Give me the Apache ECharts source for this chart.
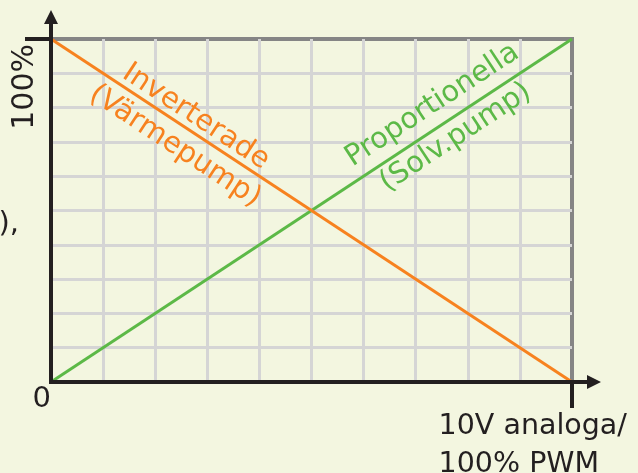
<!DOCTYPE html>
<html><head><meta charset="utf-8">
<script src="https://cdn.jsdelivr.net/npm/echarts@6/dist/echarts.min.js"></script>
<style>html,body{margin:0;padding:0;background:#f3f6e0;}#c{width:638px;height:473px;}</style>
</head><body><div id="c"></div>
<script>
// ---- data ----
const xValues = [0, 100];
const invertedValues = [100, 0];      // Inverterade (Värmepump)
const proportionalValues = [0, 100];  // Proportionella (Solv.pump)
const xLabelValues = [0];
const xLabelTexts = ['0'];
const yLabelValues = [100];
const yLabelTexts = ['100%'];
const xAxisTitle = '10V analoga/\n100% PWM';
const invertedLabel = ['Inverterade', '(Värmepump)'];
const proportionalLabel = ['Proportionella', '(Solv.pump)'];
const sideText = 'Pumpens varvtal (%),';

// ---- styling ----
const FONT = '"DejaVu Sans", Verdana, sans-serif';
const INK = '#231f20';
const ORANGE = '#f7821f';
const GREEN = '#5cb947';
const GRIDC = '#d5d5d5';
const arrowPath = 'path://M7,0 L14,14 L9,14 L9,30 L5,30 L5,14 L0,14 Z';

// label font size chosen so the ink length of the line labels matches the reference
const mctx = document.createElement('canvas').getContext('2d');
function inkLen(text, fs) {
  mctx.font = fs + 'px ' + FONT;
  const m = mctx.measureText(text);
  return m.actualBoundingBoxLeft + m.actualBoundingBoxRight;
}
const LFS = Math.round(((167 / inkLen(invertedLabel[0], 100)) + (197 / inkLen(proportionalLabel[0], 100))) * 50 * 2) / 2;

const chart = echarts.init(document.getElementById('c'), null, {renderer: 'canvas'});
const hidden = {axisLine: {show: false}, axisTick: {show: false}, axisLabel: {show: false}};
const gridSplit = {show: true, showMinLine: false, showMaxLine: false, lineStyle: {color: GRIDC, width: 3}};
const blackLine = {show: true, symbol: ['none', arrowPath], symbolSize: [14, 30], symbolOffset: [0, 14], lineStyle: {color: INK, width: 4, cap: 'square'}};
const option = {
  backgroundColor: '#f3f6e0',
  animation: false,
  grid: {left: 51, top: 39, width: 521, height: 343, outerBoundsMode: 'none', containLabel: false,
    show: true, borderColor: '#858585', borderWidth: 4, backgroundColor: 'transparent', z: 0},
  xAxis: [
    Object.assign({type: 'value', min: 0, max: 100, interval: 10, position: 'top', z: 1, splitLine: gridSplit}, hidden),
    {
      type: 'value', min: 0, max: 100, interval: 10, position: 'bottom', z: 3,
      axisLine: blackLine,
      axisTick: {show: true, customValues: [100], length: 26, lineStyle: {color: INK, width: 4}},
      axisLabel: {show: true, customValues: xLabelValues, formatter: v => xLabelTexts[xLabelValues.indexOf(v)] || '', align: 'right', verticalAlign: 'top', margin: 3, fontSize: 29, fontFamily: FONT, color: INK},
      splitLine: {show: false}
    }
  ],
  yAxis: [
    Object.assign({type: 'value', min: 0, max: 100, interval: 10, position: 'right', z: 1, splitLine: gridSplit}, hidden),
    {
      type: 'value', min: 0, max: 100, interval: 10, position: 'left', z: 3,
      axisLine: blackLine,
      axisTick: {show: true, customValues: [100], length: 26, lineStyle: {color: INK, width: 4}},
      axisLabel: {show: true, customValues: yLabelValues, formatter: v => yLabelTexts[yLabelValues.indexOf(v)] || '', rotate: 90, align: 'right', verticalAlign: 'bottom', padding: [0, 5, 0, 0], margin: 11, fontSize: 30, fontFamily: FONT, color: INK},
      splitLine: {show: false}
    }
  ],
  series: [
    {type: 'line', name: 'Proportionella', xAxisIndex: 0, yAxisIndex: 0, data: xValues.map((x, i) => [x, proportionalValues[i]]), showSymbol: false, clip: false, z: 2, lineStyle: {color: GREEN, width: 3}, itemStyle: {color: GREEN}},
    {type: 'line', name: 'Inverterade', xAxisIndex: 0, yAxisIndex: 0, data: xValues.map((x, i) => [x, invertedValues[i]]), showSymbol: false, clip: false, z: 2, lineStyle: {color: ORANGE, width: 3}, itemStyle: {color: ORANGE}}
  ]
};
chart.setOption(option);

// labels along the lines, placed through the chart's scales
const toPx = v => chart.convertToPixel({xAxisIndex: 0, yAxisIndex: 0}, v);
function lineAngle(vals) {
  const a = toPx([xValues[0], vals[0]]);
  const b = toPx([xValues[1], vals[1]]);
  return -Math.atan2(b[1] - a[1], b[0] - a[0]);
}
const invAng = lineAngle(invertedValues);
const propAng = lineAngle(proportionalValues);
const labelSpots = [
  {text: invertedLabel[0], at: [27.8, 77.3], rot: invAng, color: ORANGE},
  {text: invertedLabel[1], at: [23.8, 68.7], rot: invAng, color: ORANGE},
  {text: proportionalLabel[0], at: [73.2, 80.7], rot: propAng, color: GREEN},
  {text: proportionalLabel[1], at: [77.7, 71.3], rot: propAng, color: GREEN}
];
const elements = labelSpots.map(s => {
  const p = toPx(s.at);
  return {type: 'text', x: p[0], y: p[1], rotation: s.rot, z: 5,
    style: {text: s.text, fill: s.color, font: LFS + 'px ' + FONT, textAlign: 'center', textVerticalAlign: 'middle', align: 'center', verticalAlign: 'middle'}};
});
// axis title under the end of the x axis
const endPx = toPx([xValues[1], 0]);
elements.push({type: 'text', x: endPx[0] - 133.4, y: endPx[1] + 25.2, z: 5,
  style: {text: xAxisTitle, fill: INK, font: '28.5px ' + FONT, lineHeight: 38.3, textAlign: 'left', textVerticalAlign: 'top', align: 'left', verticalAlign: 'top'}});
// text cut off at the left edge
elements.push({type: 'text', x: 19, y: 224, z: 5,
  style: {text: sideText, fill: INK, font: '29px ' + FONT, textAlign: 'right', textVerticalAlign: 'middle', align: 'right', verticalAlign: 'middle'}});
chart.setOption({graphic: {elements: elements}});
</script>
</body></html>
